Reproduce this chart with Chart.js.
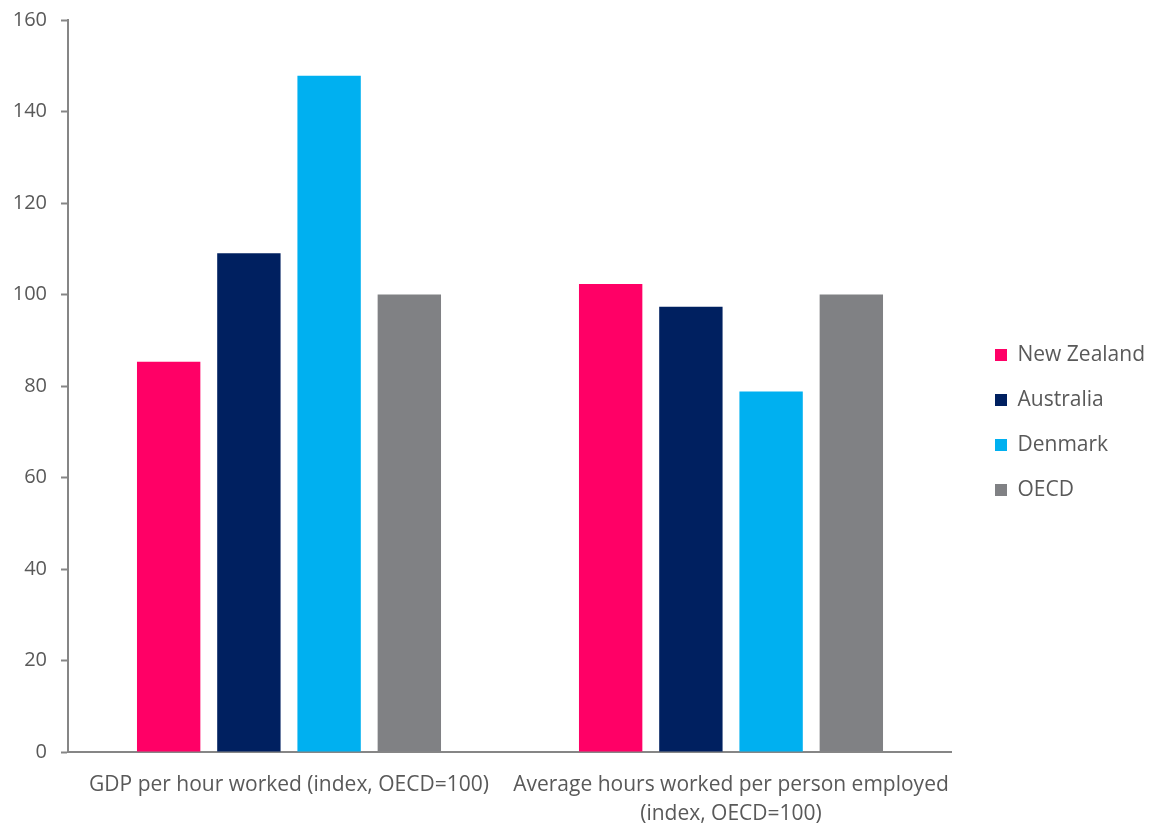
<!DOCTYPE html>
<html>
<head>
<meta charset="utf-8">
<script src="https://cdn.jsdelivr.net/npm/chart.js@4"></script>
<style>
  html, body { margin: 0; padding: 0; background: #fff; }
  #wrap { width: 1153px; height: 825px; }
</style>
</head>
<body>
<div id="wrap"><canvas id="chart"></canvas></div>
<script>
// data
const categories = [
    'GDP per hour worked (index, OECD=100)',
    ['Average hours worked per person employed', '(index, OECD=100)']
];
const countries = ['New Zealand', 'Australia', 'Denmark', 'OECD'];
const nzValues = [85.3, 102.3];
const australiaValues = [109.0, 97.3];
const denmarkValues = [147.8, 78.8];
const oecdValues = [100, 100];
const seriesColors = ['#ff0066', '#002060', '#00b0f0', '#808184'];

Chart.defaults.font.family = "'Open Sans', sans-serif";
Chart.defaults.font.size = 20;
Chart.defaults.color = '#595959';

const axisGray = '#868686';

// nudge the legend away from the plot, like the original
const legendShift = {
    id: 'legendShift',
    afterLayout(chart) {
        const lg = chart.legend;
        if (lg) {
            lg.left += 19;
            lg.right += 19;
        }
    }
};

new Chart(document.getElementById('chart'), {
    type: 'bar',
    data: {
        labels: categories,
        datasets: [nzValues, australiaValues, denmarkValues, oecdValues].map((vals, i) => ({
            label: countries[i],
            data: vals,
            backgroundColor: seriesColors[i],
            categoryPercentage: 0.726,
            barPercentage: 0.79
        }))
    },
    options: {
        responsive: true,
        maintainAspectRatio: false,
        animation: false,
        layout: {
            padding: { left: 0, top: 20, right: 17, bottom: 0 }
        },
        scales: {
            x: {
                grid: { display: false, drawTicks: false },
                border: { color: axisGray, width: 2 },
                ticks: {
                    padding: 19,
                    maxRotation: 0,
                    autoSkip: false,
                    font: { size: 21, lineHeight: 1.35 }
                },
                afterFit(scale) { scale.height = 73; }
            },
            y: {
                min: 0,
                max: 160,
                ticks: { stepSize: 20, padding: 14 },
                grid: { drawOnChartArea: false, tickLength: 7, color: axisGray, tickWidth: 2 },
                border: { color: axisGray, width: 2 },
                afterFit(scale) {
                    scale.width = 68;
                    scale.paddingTop = 0;
                    scale.paddingBottom = 0;
                }
            }
        },
        plugins: {
            legend: {
                position: 'right',
                align: 'center',
                labels: {
                    boxWidth: 12,
                    boxHeight: 12,
                    padding: 24,
                    font: { size: 21 }
                }
            },
            tooltip: { enabled: false }
        }
    },
    plugins: [legendShift]
});
</script>
</body>
</html>
